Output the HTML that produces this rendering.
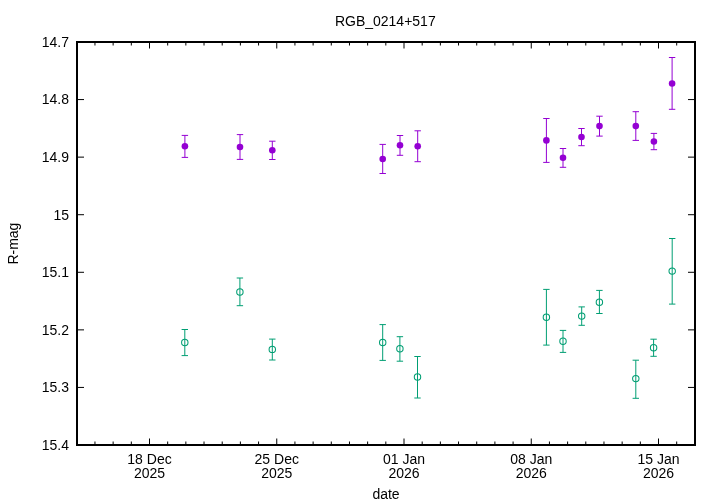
<!DOCTYPE html>
<html><head><meta charset="utf-8"><title>RGB_0214+517</title>
<style>
html,body{margin:0;padding:0;background:#fff;}
body{width:720px;height:504px;overflow:hidden;}
svg{display:block;}
text{font-family:"Liberation Sans",Arial,sans-serif;font-size:14px;fill:#000;}
</style></head>
<body>
<svg width="720" height="504" viewBox="0 0 720 504">
<rect width="720" height="504" fill="#fff"/>
<path d="M94.96 445v-3.5M94.96 42v3.5M113.14 445v-3.5M113.14 42v3.5M131.32 445v-3.5M131.32 42v3.5M149.5 445v-6.5M149.5 42v6.5M167.68 445v-3.5M167.68 42v3.5M185.85 445v-3.5M185.85 42v3.5M204.03 445v-3.5M204.03 42v3.5M222.21 445v-3.5M222.21 42v3.5M240.39 445v-3.5M240.39 42v3.5M258.57 445v-3.5M258.57 42v3.5M276.75 445v-6.5M276.75 42v6.5M294.93 445v-3.5M294.93 42v3.5M313.11 445v-3.5M313.11 42v3.5M331.29 445v-3.5M331.29 42v3.5M349.47 445v-3.5M349.47 42v3.5M367.64 445v-3.5M367.64 42v3.5M385.82 445v-3.5M385.82 42v3.5M404 445v-6.5M404 42v6.5M422.18 445v-3.5M422.18 42v3.5M440.36 445v-3.5M440.36 42v3.5M458.54 445v-3.5M458.54 42v3.5M476.72 445v-3.5M476.72 42v3.5M494.9 445v-3.5M494.9 42v3.5M513.08 445v-3.5M513.08 42v3.5M531.25 445v-6.5M531.25 42v6.5M549.43 445v-3.5M549.43 42v3.5M567.61 445v-3.5M567.61 42v3.5M585.79 445v-3.5M585.79 42v3.5M603.97 445v-3.5M603.97 42v3.5M622.15 445v-3.5M622.15 42v3.5M640.33 445v-3.5M640.33 42v3.5M658.51 445v-6.5M658.51 42v6.5M676.69 445v-3.5M676.69 42v3.5M77 99.57h7M695 99.57h-7M77 157.14h7M695 157.14h-7M77 214.71h7M695 214.71h-7M77 272.29h7M695 272.29h-7M77 329.86h7M695 329.86h-7M77 387.43h7M695 387.43h-7" stroke="#000" stroke-width="1" fill="none"/>
<rect x="77" y="42" width="618" height="403" fill="none" stroke="#000" stroke-width="2"/>
<text x="69" y="46.8" text-anchor="end">14.7</text>
<text x="69" y="104.37" text-anchor="end">14.8</text>
<text x="69" y="161.94" text-anchor="end">14.9</text>
<text x="69" y="219.51" text-anchor="end">15</text>
<text x="69" y="277.09" text-anchor="end">15.1</text>
<text x="69" y="334.66" text-anchor="end">15.2</text>
<text x="69" y="392.23" text-anchor="end">15.3</text>
<text x="69" y="449.8" text-anchor="end">15.4</text>
<text x="149.5" y="464" text-anchor="middle">18 Dec</text>
<text x="149.5" y="478" text-anchor="middle">2025</text>
<text x="276.75" y="464" text-anchor="middle">25 Dec</text>
<text x="276.75" y="478" text-anchor="middle">2025</text>
<text x="404" y="464" text-anchor="middle">01 Jan</text>
<text x="404" y="478" text-anchor="middle">2026</text>
<text x="531.25" y="464" text-anchor="middle">08 Jan</text>
<text x="531.25" y="478" text-anchor="middle">2026</text>
<text x="658.51" y="464" text-anchor="middle">15 Jan</text>
<text x="658.51" y="478" text-anchor="middle">2026</text>
<text x="386" y="499" text-anchor="middle">date</text>
<text x="385.3" y="26" text-anchor="middle">RGB_0214+517</text>
<text transform="translate(18.2 243.6) rotate(-90)" text-anchor="middle">R-mag</text>
<path d="M184.9 135.4V157.4M181.7 135.4h6.4M181.7 157.4h6.4M240 134.6V159.4M236.8 134.6h6.4M236.8 159.4h6.4M272.3 141.2V159.5M269.1 141.2h6.4M269.1 159.5h6.4M382.7 144.4V173.5M379.5 144.4h6.4M379.5 173.5h6.4M400 135.5V155.3M396.8 135.5h6.4M396.8 155.3h6.4M417.7 130.8V161.7M414.5 130.8h6.4M414.5 161.7h6.4M546.4 118.5V162.4M543.2 118.5h6.4M543.2 162.4h6.4M563 148.5V167.3M559.8 148.5h6.4M559.8 167.3h6.4M581.5 128.5V145.7M578.3 128.5h6.4M578.3 145.7h6.4M599.5 116.2V136.1M596.3 116.2h6.4M596.3 136.1h6.4M635.8 111.7V140.4M632.6 111.7h6.4M632.6 140.4h6.4M653.9 133.4V149.7M650.7 133.4h6.4M650.7 149.7h6.4M672.1 57.5V109.3M668.9 57.5h6.4M668.9 109.3h6.4" stroke="#9400D3" stroke-width="1" fill="none"/>
<circle cx="184.9" cy="146.3" r="3.3" fill="#9400D3"/>
<circle cx="240" cy="147" r="3.3" fill="#9400D3"/>
<circle cx="272.3" cy="150.3" r="3.3" fill="#9400D3"/>
<circle cx="382.7" cy="159" r="3.3" fill="#9400D3"/>
<circle cx="400" cy="145.3" r="3.3" fill="#9400D3"/>
<circle cx="417.7" cy="146.3" r="3.3" fill="#9400D3"/>
<circle cx="546.4" cy="140.4" r="3.3" fill="#9400D3"/>
<circle cx="563" cy="157.7" r="3.3" fill="#9400D3"/>
<circle cx="581.5" cy="137" r="3.3" fill="#9400D3"/>
<circle cx="599.5" cy="126.1" r="3.3" fill="#9400D3"/>
<circle cx="635.8" cy="126.1" r="3.3" fill="#9400D3"/>
<circle cx="653.9" cy="141.5" r="3.3" fill="#9400D3"/>
<circle cx="672.1" cy="83.5" r="3.3" fill="#9400D3"/>
<path d="M184.8 329.5V355.6M181.6 329.5h6.4M181.6 355.6h6.4M239.9 278V305.7M236.7 278h6.4M236.7 305.7h6.4M272.3 339.1V360M269.1 339.1h6.4M269.1 360h6.4M382.7 324.6V360.4M379.5 324.6h6.4M379.5 360.4h6.4M399.9 336.7V361.2M396.7 336.7h6.4M396.7 361.2h6.4M417.5 356.5V398M414.3 356.5h6.4M414.3 398h6.4M546.4 289.4V345.1M543.2 289.4h6.4M543.2 345.1h6.4M563 330.4V352.4M559.8 330.4h6.4M559.8 352.4h6.4M581.7 306.9V325.3M578.5 306.9h6.4M578.5 325.3h6.4M599.4 290.4V313.5M596.2 290.4h6.4M596.2 313.5h6.4M635.8 360.2V398.3M632.6 360.2h6.4M632.6 398.3h6.4M653.6 339.2V356.3M650.4 339.2h6.4M650.4 356.3h6.4M672.2 238.5V304.1M669 238.5h6.4M669 304.1h6.4" stroke="#009E73" stroke-width="1" fill="none"/>
<circle cx="184.8" cy="342.5" r="3.2" fill="none" stroke="#009E73" stroke-width="1.05"/>
<circle cx="239.9" cy="292" r="3.2" fill="none" stroke="#009E73" stroke-width="1.05"/>
<circle cx="272.3" cy="349.4" r="3.2" fill="none" stroke="#009E73" stroke-width="1.05"/>
<circle cx="382.7" cy="342.5" r="3.2" fill="none" stroke="#009E73" stroke-width="1.05"/>
<circle cx="399.9" cy="348.7" r="3.2" fill="none" stroke="#009E73" stroke-width="1.05"/>
<circle cx="417.5" cy="377" r="3.2" fill="none" stroke="#009E73" stroke-width="1.05"/>
<circle cx="546.4" cy="317.2" r="3.2" fill="none" stroke="#009E73" stroke-width="1.05"/>
<circle cx="563" cy="341.3" r="3.2" fill="none" stroke="#009E73" stroke-width="1.05"/>
<circle cx="581.7" cy="316.1" r="3.2" fill="none" stroke="#009E73" stroke-width="1.05"/>
<circle cx="599.4" cy="302.2" r="3.2" fill="none" stroke="#009E73" stroke-width="1.05"/>
<circle cx="635.8" cy="378.6" r="3.2" fill="none" stroke="#009E73" stroke-width="1.05"/>
<circle cx="653.6" cy="347.7" r="3.2" fill="none" stroke="#009E73" stroke-width="1.05"/>
<circle cx="672.2" cy="271.1" r="3.2" fill="none" stroke="#009E73" stroke-width="1.05"/>
</svg>
</body></html>
